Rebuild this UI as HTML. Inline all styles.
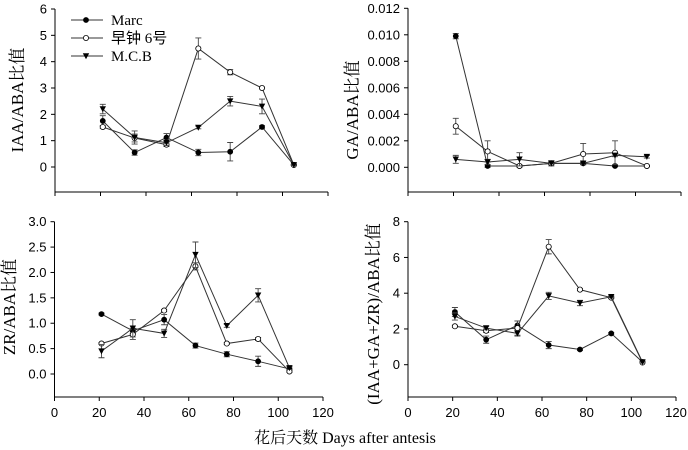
<!DOCTYPE html>
<html><head><meta charset="utf-8">
<style>
html,body{margin:0;padding:0;background:#fff;}
svg{display:block;}
.tk{font-family:"Liberation Sans",sans-serif;font-size:13px;fill:#000;}
.tt{font-family:"Liberation Serif","Noto Serif CJK SC",serif;font-size:17px;fill:#000;}
</style></head>
<body>
<svg id="chart" width="688" height="450" viewBox="0 0 688 450" xmlns="http://www.w3.org/2000/svg">
<g id="legend"></g>
<text class="tt" x="345" y="443" text-anchor="middle" style="font-size:16px">花后天数  Days after antesis</text>
</svg>
<script>
const days = [21,35,49,63,77,91,105];
const xTicks = [0,20,40,60,80,100,120];
const seriesNames = ["Marc","早钟 6号","M.C.B"];

const iaaMarc = [1.75,0.55,1.12,0.55,0.58,1.52,0.08];
const iaaMarcErr = [0.2,0.1,0.15,0.12,0.35,0.05,0.02];
const iaaZz = [1.52,1.1,0.85,4.5,3.6,3.0,0.08];
const iaaZzErr = [0.05,0.15,0.07,0.4,0.1,0.03,0.02];
const iaaMcb = [2.2,1.12,0.92,1.5,2.5,2.3,0.08];
const iaaMcbErr = [0.18,0.25,0.1,0.05,0.18,0.28,0.02];
const iaaTicks = [0,1,2,3,4,5,6];

const gaMarc = [0.0099,0.0001,0.0001,0.0003,0.0003,0.0001,0.0001];
const gaMarcErr = [0.0002,0.0001,0.00005,0.0001,0.00005,0.00005,0.00005];
const gaZz = [0.0031,0.0012,0.0001,0.0003,0.001,0.0011,0.0001];
const gaZzErr = [0.0006,0.0008,0.0001,0.0001,0.0008,0.0009,0.00005];
const gaMcb = [0.0006,0.0004,0.0006,0.0003,0.0003,0.0009,0.0008];
const gaMcbErr = [0.0003,0.0002,0.0005,0.0002,0.0001,0.0001,0.0001];
const gaTicks = ["0.000","0.002","0.004","0.006","0.008","0.010","0.012"];

const zrMarc = [1.18,0.85,1.07,0.56,0.39,0.25,0.1];
const zrMarcErr = [0.02,0.05,0.1,0.05,0.05,0.1,0.02];
const zrZz = [0.6,0.78,1.25,2.12,0.6,0.69,0.05];
const zrZzErr = [0.02,0.1,0.02,0.07,0.02,0.03,0.02];
const zrMcb = [0.45,0.9,0.8,2.35,0.95,1.55,0.12];
const zrMcbErr = [0.13,0.17,0.08,0.25,0.03,0.13,0.03];
const zrTicks = ["0.0","0.5","1.0","1.5","2.0","2.5","3.0"];

const sumMarc = [2.95,1.4,2.2,1.1,0.85,1.75,0.15];
const sumMarcErr = [0.25,0.2,0.25,0.2,0.05,0.05,0.05];
const sumZz = [2.15,1.9,2.05,6.6,4.2,3.75,0.12];
const sumZzErr = [0.05,0.1,0.4,0.4,0.05,0.05,0.02];
const sumMcb = [2.7,2.05,1.75,3.85,3.45,3.8,0.15];
const sumMcbErr = [0.2,0.1,0.15,0.2,0.15,0.05,0.05];
const sumTicks = [0,2,4,6,8];

const NS="http://www.w3.org/2000/svg";
const svg=document.getElementById('chart');
function mk(tag,attrs,parent){const e=document.createElementNS(NS,tag);for(const k in attrs)e.setAttribute(k,attrs[k]);(parent||svg).appendChild(e);return e;}

function marker(g,type,x,y){
  let m;
  if(type===0){m=mk('circle',{cx:x,cy:y,r:2.5,fill:'#000',stroke:'#000','stroke-width':0.8},g);}
  else if(type===1){m=mk('circle',{cx:x,cy:y,r:2.6,fill:'#fff',stroke:'#000','stroke-width':0.8},g);}
  else {m=mk('path',{d:`M${x-3.2},${y-2.8} L${x+3.2},${y-2.8} L${x},${y+3.2} Z`,fill:'#000'},g);}
  return m;
}

function panel(p){
  const g=mk('g',{});
  
  
  const xs=v=>p.x0+(v/120)*(p.x1-p.x0);
  const ys=v=>p.yZero-(v/p.yMax)*(p.yZero-p.yTop);
  const ax=mk('line',{x1:p.x0,y1:p.yTop,x2:p.x0,y2:p.yBot,stroke:'#000','stroke-width':1},g);
  
  
  const bx=mk('line',{x1:p.x0,y1:p.yBot,x2:p.x1,y2:p.yBot,stroke:'#000','stroke-width':1},g);
  
  
  p.ticks.forEach(t=>{
    const v=parseFloat(t), y=ys(v);
    mk('line',{x1:p.x0-4,y1:y,x2:p.x0,y2:y,stroke:'#000'},g);
    const tx=mk('text',{x:p.x0-8,y:y+4.5,'text-anchor':'end',class:'tk'},g);
    tx.textContent=t;
    
    
  });
  xTicks.forEach(t=>{
    const x=xs(t);
    mk('line',{x1:x,y1:p.yBot,x2:x,y2:p.yBot+4,stroke:'#000'},g);
    if(p.xLabels){
      const tx=mk('text',{x:x,y:p.yBot+20,'text-anchor':'middle',class:'tk'},g);
      tx.textContent=t;
      
      
    }
  });
  const tt=mk('text',{x:0,y:0,'text-anchor':'middle',class:'tt',transform:`translate(${p.tx},${p.ty}) rotate(-90)`},g);
  tt.textContent=p.title;
  
  
  p.series.forEach((s,si)=>{
    const vals=s[0], errs=s[1];
    const pts=days.map((d,i)=>xs(d)+','+ys(vals[i])).join(' ');
    const pl=mk('polyline',{points:pts,fill:'none',stroke:'#333','stroke-width':1},g);
    
    
    days.forEach((d,i)=>{
      const x=xs(d),y1=ys(vals[i]+errs[i]),y2=ys(vals[i]-errs[i]);
      mk('path',{d:`M${x},${y1}L${x},${y2}M${x-3},${y1}L${x+3},${y1}M${x-3},${y2}L${x+3},${y2}`,stroke:'#444','stroke-width':0.9,fill:'none'},g);
    });
    days.forEach((d,i)=>{
      const m=marker(g,si,xs(d),ys(vals[i]));
      
      
    });
  });
}

panel({name:'iaa-aba-panel',x0:55,x1:328,yTop:9,yZero:167,yBot:192,yMax:6,ticks:iaaTicks.map(String),xLabels:false,title:'IAA/ABA比值',tx:23,ty:100,
  series:[[iaaMarc,iaaMarcErr],[iaaZz,iaaZzErr],[iaaMcb,iaaMcbErr]]});
panel({name:'ga-aba-panel',x0:408,x1:681,yTop:8.3,yZero:167.3,yBot:192,yMax:0.012,ticks:gaTicks,xLabels:false,title:'GA/ABA比值',tx:358,ty:110,
  series:[[gaMarc,gaMarcErr],[gaZz,gaZzErr],[gaMcb,gaMcbErr]]});
panel({name:'zr-aba-panel',x0:54.5,x1:323,yTop:221.7,yZero:374,yBot:397,yMax:3,ticks:zrTicks,xLabels:true,title:'ZR/ABA比值',tx:15,ty:307,
  series:[[zrMarc,zrMarcErr],[zrZz,zrZzErr],[zrMcb,zrMcbErr]]});
panel({name:'sum-aba-panel',x0:408,x1:676,yTop:221.7,yZero:364.7,yBot:397,yMax:8,ticks:sumTicks.map(String),xLabels:true,title:'(IAA+GA+ZR)/ABA比值',tx:379,ty:314,
  series:[[sumMarc,sumMarcErr],[sumZz,sumZzErr],[sumMcb,sumMcbErr]]});

const lg=document.getElementById('legend');
seriesNames.forEach((n,i)=>{
  const y=20+i*18;
  const e=mk('g',{},lg);
  
  
  mk('line',{x1:71,y1:y,x2:103,y2:y,stroke:'#333','stroke-width':1},e);
  marker(e,i,86,y);
  const t=mk('text',{x:111,y:y+5,class:'tt'},e);
  t.setAttribute('style','font-family:"Liberation Serif","Noto Sans CJK SC",serif;font-size:15px');
  t.textContent=n;
});
</script>
</body></html>
